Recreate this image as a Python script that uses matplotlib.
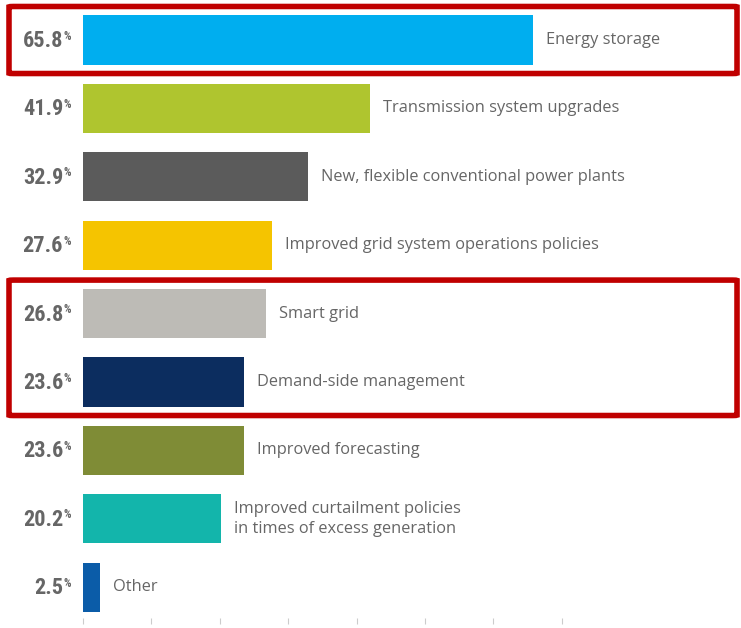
import matplotlib.pyplot as plt
from matplotlib import font_manager
from matplotlib.patches import FancyBboxPatch
from matplotlib.transforms import blended_transform_factory

# datos
categorias = [
    "Energy storage",
    "Transmission system upgrades",
    "New, flexible conventional power plants",
    "Improved grid system operations policies",
    "Smart grid",
    "Demand-side management",
    "Improved forecasting",
    "Improved curtailment policies\nin times of excess generation",
    "Other",
]
valores = [65.8, 41.9, 32.9, 27.6, 26.8, 23.6, 23.6, 20.2, 2.5]
colores = ["#00AEEF", "#AFC52F", "#5B5B5B", "#F5C400", "#BDBBB6",
           "#0C2D5F", "#7F8C36", "#13B5AB", "#0B5CA8"]
resaltados = [(0, 0), (4, 5)]  # grupos de filas con recuadro rojo


def fuente_estrecha():
    nombres = {f.name for f in font_manager.fontManager.ttflist}
    for cand in ["Roboto Condensed", "Liberation Sans Narrow", "DejaVu Sans Condensed",
                 "Open Sans Condensed", "Roboto"]:
        if cand in nombres:
            return cand
    return "DejaVu Sans"


f_num = fuente_estrecha()

W, H = 741, 628
fig = plt.figure(figsize=(W / 100, H / 100), dpi=100)
ax = fig.add_axes([83 / W, (H - 624) / H, 1 - 83 / W, 624 / H])

paso = 68.4
n = len(valores)
pos = list(range(n))
ax.barh(pos, valores, height=0.72, color=colores)

ax.set_xlim(0, (W - 83) / 6.84)
ax.set_ylim((624 - 40) / paso, -40 / paso)

for i, (v, cat) in enumerate(zip(valores, categorias)):
    ax.annotate(f"{v}", xy=(0, i), xytext=(-20, -1), textcoords="offset pixels",
                ha="right", va="center", fontsize=16, fontweight="bold",
                family=f_num, color="#666666")
    ax.annotate("%", xy=(0, i), xytext=(-20, 4), textcoords="offset pixels",
                ha="left", va="center", fontsize=8.5, fontweight="bold",
                family=f_num, color="#666666")
    ax.annotate(cat, xy=(v, i), xytext=(13, 0), textcoords="offset pixels",
                ha="left", va="center", fontsize=11.8, family="Open Sans",
                color="#666666", linespacing=1.35)

# ejes
for s in ax.spines.values():
    s.set_visible(False)
ax.set_yticks([])
ax.set_xticks(range(0, 80, 10))
ax.tick_params(axis="x", direction="in", length=4, width=0.8, color="#cccccc",
               labelbottom=False)

# recuadros rojos
tr = blended_transform_factory(fig.transFigure, ax.transData)
for a, b in resaltados:
    caja = FancyBboxPatch((9 / W, a - 0.49), (737 - 9) / W, (b - a) + 0.98,
                          boxstyle="round,pad=0,rounding_size=0.006", transform=tr,
                          fill=False, edgecolor="#C00000", linewidth=4,
                          clip_on=False)
    fig.patches.append(caja)

fig.savefig("out.png", dpi=100)
